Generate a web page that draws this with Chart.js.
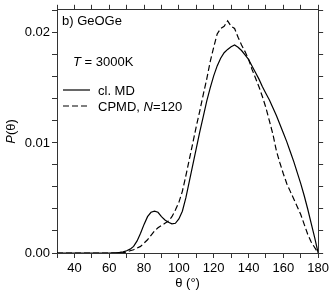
<!DOCTYPE html>
<html>
<head>
<meta charset="utf-8">
<script src="https://cdn.jsdelivr.net/npm/chart.js@4.4.0/dist/chart.umd.min.js"></script>
<style>
  body { margin: 0; background: #fff; }
  #grafica { display: block; }
</style>
</head>
<body>
<canvas id="grafica" width="332" height="293"></canvas>
<script>
// Datos (P(theta) vs theta)
const angulos = [30, 40, 50, 60, 62, 64, 66, 68, 70, 72, 74, 76, 78, 80, 82, 84, 86, 88, 90, 92,
  94, 96, 98, 100, 102, 104, 106, 108, 110, 112, 114, 116, 118, 120, 122, 124, 126, 128, 130, 132,
  134, 136, 138, 140, 142, 144, 146, 148, 150, 152, 154, 156, 158, 160, 162, 164, 166, 168, 170, 172,
  174, 176, 178, 180];

const clasicoMD = [0, 0, 0, 0, 0.00001, 0.00002, 0.00005, 0.0001, 0.0002, 0.00035, 0.0006, 0.0011, 0.0018, 0.0026, 0.0033, 0.0037, 0.0038, 0.0037, 0.0033, 0.0030,
  0.0028, 0.00265, 0.0027, 0.0031, 0.0038, 0.0050, 0.0065, 0.0080, 0.0095, 0.0110, 0.0124, 0.0138, 0.0150, 0.0161, 0.0170, 0.0177, 0.0182, 0.0185, 0.01875, 0.0189,
  0.0187, 0.0184, 0.0180, 0.0176, 0.0170, 0.0164, 0.0158, 0.0151, 0.0145, 0.0139, 0.0132, 0.0125, 0.0117, 0.0109, 0.0101, 0.0092, 0.0083, 0.0073, 0.0063, 0.0052,
  0.0040, 0.0027, 0.0014, 0];

const cpmd = [0, 0, 0, 0, 0, 0, 0.00001, 0.00003, 0.0001, 0.0002, 0.0003, 0.00045, 0.0006, 0.0009, 0.0012, 0.0016, 0.0020, 0.0023, 0.0025, 0.0027,
  0.0029, 0.0033, 0.0039, 0.0046, 0.0056, 0.0070, 0.0085, 0.0100, 0.0115, 0.0129, 0.0144, 0.0158, 0.0174, 0.0187, 0.0199, 0.0204, 0.0206, 0.0211, 0.0206, 0.0204,
  0.0196, 0.0189, 0.0183, 0.0176, 0.0167, 0.0159, 0.0151, 0.0142, 0.0132, 0.0120, 0.0108, 0.0093, 0.0082, 0.0072, 0.0063, 0.0056, 0.0049, 0.0042, 0.0035, 0.0026,
  0.0017, 0.0010, 0.0005, 0];

const etiquetasX = [40, 60, 80, 100, 120, 140, 160, 180];
const etiquetasY = [0, 0.01, 0.02];

const fuente = '"Liberation Sans", Arial, sans-serif';
const colorEje = '#333';

function puntos(valores) {
  return angulos.map((a, i) => ({ x: a, y: valores[i] }));
}

// textos: panel, temperatura, leyenda y titulos de ejes
const textos = {
  id: 'textos',
  afterDraw(chart) {
    const c = chart.ctx;
    const area = chart.chartArea;
    c.save();
    c.fillStyle = '#000';
    c.strokeStyle = '#000';
    c.textBaseline = 'alphabetic';
    c.font = '13px ' + fuente;
    c.fillText('b) GeOGe', 62, 25);

    // T = 3000K
    c.font = 'italic 13px ' + fuente;
    c.fillText('T', 73, 66);
    let w = c.measureText('T').width;
    c.font = '13px ' + fuente;
    c.fillText(' = 3000K', 73 + w, 66);

    // leyenda
    c.lineWidth = 1.2;
    c.beginPath();
    c.moveTo(63, 90); c.lineTo(90, 90);
    c.stroke();
    c.setLineDash([6, 3]);
    c.beginPath();
    c.moveTo(63, 106); c.lineTo(90, 106);
    c.stroke();
    c.setLineDash([]);
    c.fillText('cl. MD', 98, 95);
    c.fillText('CPMD, ', 98, 111);
    let x = 98 + c.measureText('CPMD, ').width;
    c.font = 'italic 13px ' + fuente;
    c.fillText('N', x, 111);
    x += c.measureText('N').width;
    c.font = '13px ' + fuente;
    c.fillText('=120', x, 111);

    // titulo eje x
    c.textAlign = 'center';
    c.fillText('\u03B8 (\u00B0)', (area.left + area.right) / 2, 287);

    // titulo eje y
    c.translate(15, (area.top + area.bottom) / 2);
    c.rotate(-Math.PI / 2);
    c.textAlign = 'left';
    c.font = 'italic 13px ' + fuente;
    const wp = c.measureText('P').width;
    c.font = '13px ' + fuente;
    const wr = c.measureText('(\u03B8)').width;
    let x0 = -(wp + wr) / 2;
    c.font = 'italic 13px ' + fuente;
    c.fillText('P', x0, 0);
    c.font = '13px ' + fuente;
    c.fillText('(\u03B8)', x0 + wp, 0);
    c.restore();
  }
};

const ctx = document.getElementById('grafica');
new Chart(ctx, {
  type: 'line',
  data: {
    datasets: [{
      label: 'cl. MD',
      data: puntos(clasicoMD),
      borderColor: '#000',
      borderWidth: 1.2,
      pointRadius: 0,
      tension: 0,
      xAxisID: 'x',
      yAxisID: 'y'
    }, {
      label: 'CPMD, N=120',
      data: puntos(cpmd),
      borderColor: '#000',
      borderWidth: 1.2,
      borderDash: [6, 3],
      pointRadius: 0,
      tension: 0,
      xAxisID: 'x',
      yAxisID: 'y'
    }]
  },
  options: {
    responsive: false,
    animation: false,
    layout: { padding: 0 },
    plugins: {
      legend: { display: false },
      tooltip: { enabled: false }
    },
    scales: {
      x: {
        type: 'linear',
        position: 'bottom',
        min: 30,
        max: 180,
        afterFit: s => { s.height = 40; },
        border: { color: colorEje, width: 1 },
        grid: { drawOnChartArea: false, color: colorEje, tickLength: 5 },
        ticks: {
          stepSize: 10,
          autoSkip: false,
          maxRotation: 0,
          padding: 3,
          color: '#000',
          font: { size: 13, family: fuente },
          callback: v => etiquetasX.includes(v) ? String(v) : ''
        }
      },
      x2: {
        type: 'linear',
        position: 'top',
        min: 30,
        max: 180,
        afterFit: s => { s.height = 7; },
        border: { color: colorEje, width: 1 },
        grid: { drawOnChartArea: false, color: colorEje, tickLength: 5 },
        ticks: { stepSize: 10, display: false }
      },
      y: {
        position: 'left',
        min: 0,
        max: 0.0221,
        afterFit: s => { s.width = 57; },
        border: { color: colorEje, width: 1 },
        grid: { drawOnChartArea: false, color: colorEje, tickLength: 5 },
        ticks: {
          stepSize: 0.002,
          includeBounds: false,
          autoSkip: false,
          padding: 2,
          color: '#000',
          font: { size: 13, family: fuente },
          callback: v => {
            const e = etiquetasY.find(t => Math.abs(t - v) < 1e-7);
            return e !== undefined ? e.toFixed(2) : '';
          }
        }
      },
      y2: {
        position: 'right',
        min: 0,
        max: 0.0221,
        afterFit: s => { s.width = 13; },
        border: { color: colorEje, width: 1 },
        grid: { drawOnChartArea: false, color: colorEje, tickLength: 5 },
        ticks: { stepSize: 0.002, includeBounds: false, display: false }
      }
    }
  },
  plugins: [textos]
});
</script>
</body>
</html>
